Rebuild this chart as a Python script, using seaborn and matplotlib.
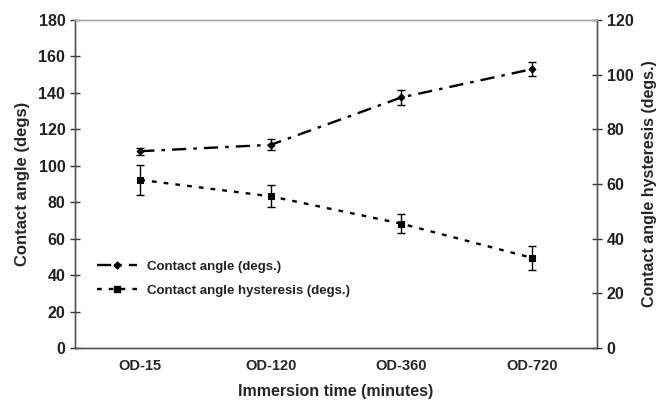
import matplotlib
matplotlib.use("Agg")
import matplotlib.pyplot as plt
import seaborn as sns
import numpy as np
import pandas as pd
from matplotlib.lines import Line2D

categories = ["OD-15", "OD-120", "OD-360", "OD-720"]
contact_angle = [108, 111.5, 137.5, 153]
contact_angle_err = [2, 3, 4, 4]
hysteresis = [61.5, 55.5, 45.5, 33]
hysteresis_err = [5.5, 4, 3.5, 4.5]

sns.set_theme(style="white")
plt.rcParams['font.family'] = ['Liberation Sans', 'DejaVu Sans']

df = pd.DataFrame({"pos": np.arange(len(categories)), "cat": categories,
                   "ca": contact_angle, "cae": contact_angle_err,
                   "hy": hysteresis, "hye": hysteresis_err})

fig = plt.figure(figsize=(6.59, 4.11), dpi=100)
ax = fig.add_axes([75/659, 1-348/411, (597-75)/659, (348-20)/411])
ax2 = ax.twinx()

ls1 = (0, (6, 3, 1.5, 3))
ls2 = (0, (2, 3))

sns.lineplot(data=df, x="pos", y="ca", ax=ax, color="black", lw=1.7,
             marker="D", markersize=3.5, markeredgecolor="black",
             linestyle=ls1)
ax.errorbar(df["pos"], df["ca"], yerr=df["cae"], fmt="none", ecolor="black",
            elinewidth=1, capsize=3, capthick=1)

sns.lineplot(data=df, x="pos", y="hy", ax=ax2, color="black", lw=1.7,
             marker="s", markersize=4.5, markeredgecolor="black",
             linestyle=ls2)
ax2.errorbar(df["pos"], df["hy"], yerr=df["hye"], fmt="none", ecolor="black",
             elinewidth=1, capsize=3, capthick=1)

ax.set_xlim(-0.5, len(categories) - 0.5)
ax.set_ylim(0, 180)
ax2.set_ylim(0, 120)
ax.set_yticks(np.arange(0, 181, 20))
ax2.set_yticks(np.arange(0, 121, 20))
ax.set_xticks(df["pos"])
ax.set_xticklabels(categories, fontweight="bold", fontsize=10.5)
ax.set_xticks(np.arange(0.5, len(categories) - 1, 1), minor=True)
ax.tick_params(axis="x", which="major", length=0, pad=8)
ax.tick_params(axis="x", which="minor", length=4, direction="in", color="#333333", width=1)
ax.tick_params(axis="y", length=7, direction="inout", color="#333333", width=1, labelsize=11.5)
ax2.tick_params(axis="y", length=7, direction="inout", color="#333333", width=1, labelsize=11.5)
for lab in ax.get_yticklabels() + ax2.get_yticklabels():
    lab.set_fontweight("bold")
    lab.set_color("#222222")

ax.set_xlabel("Immersion time (minutes)", fontweight="bold", fontsize=11.5, labelpad=8)
ax.set_ylabel("Contact angle (degs)", fontweight="bold", fontsize=12, labelpad=6)
ax2.set_ylabel("Contact angle hysteresis (degs.)", fontweight="bold", fontsize=11.5, labelpad=6)

for a in (ax, ax2):
    for s in a.spines.values():
        s.set_color("#555555")
        s.set_linewidth(1)
    a.spines["top"].set_color("#aaaaaa")

handles = [
    Line2D([], [], color="black", lw=1.7, linestyle=ls1, marker="D", markersize=3.5),
    Line2D([], [], color="black", lw=1.7, linestyle=ls2, marker="s", markersize=4.5),
]
leg = ax.legend(handles, ["Contact angle (degs.)", "Contact angle hysteresis (degs.)"],
                loc="lower left", bbox_to_anchor=(0.02, 0.12), frameon=False,
                prop={"size": 9.5, "weight": "bold"}, handlelength=3, labelspacing=0.9)
for t in leg.get_texts():
    t.set_color("#222222")

fig.savefig("out.png", dpi=100)
